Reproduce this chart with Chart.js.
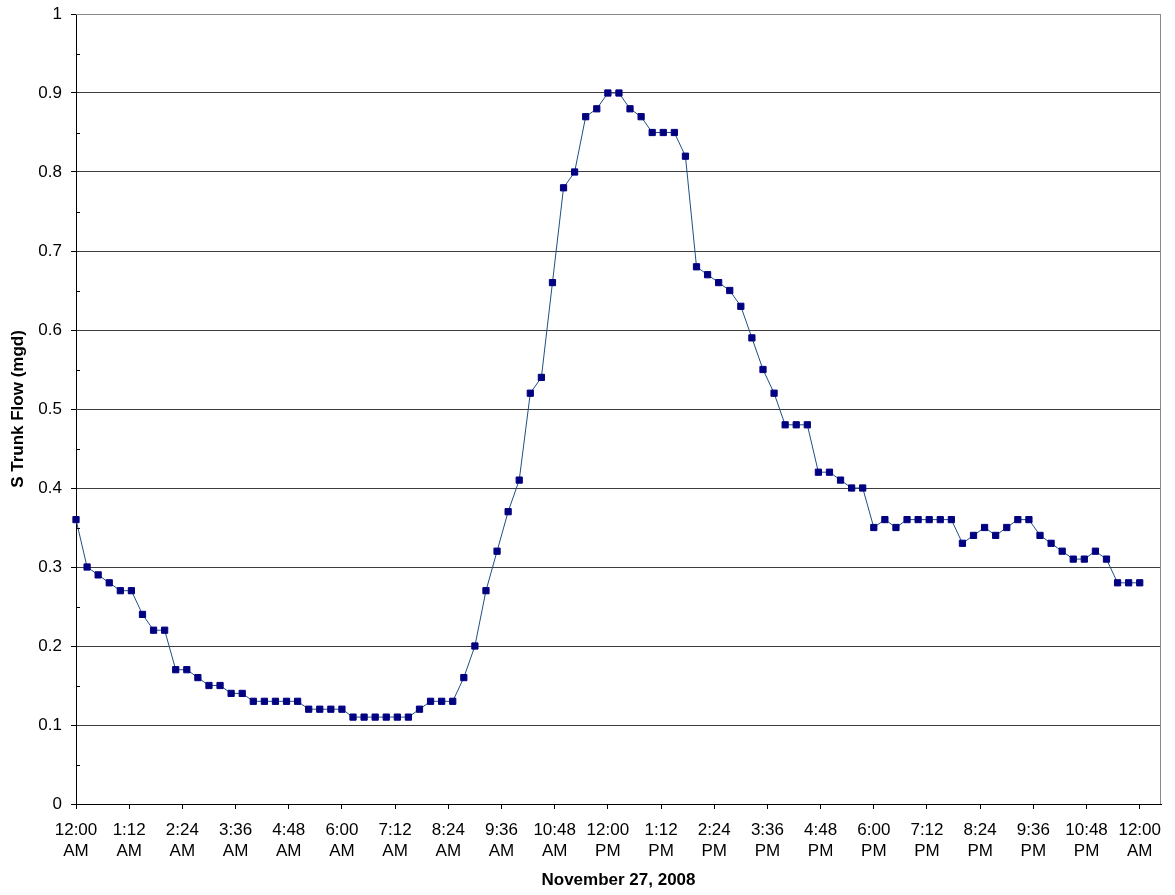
<!DOCTYPE html>
<html>
<head>
<meta charset="utf-8">
<title>S Trunk Flow – November 27, 2008</title>
<script src="https://cdn.jsdelivr.net/npm/chart.js@4/dist/chart.umd.min.js"></script>
<style>
  html, body { margin: 0; padding: 0; background: #ffffff; }
  #wrap { width: 1175px; height: 895px; position: relative; }
</style>
</head>
<body>
<div id="wrap"><canvas id="flowChart"></canvas></div>
<script>
// Flow readings (mgd), one every 15 minutes from midnight to midnight.
const stepMinutes = 15;
const flowMgd = [
  0.36, 0.30, 0.29, 0.28, 0.27, 0.27, 0.24, 0.22, 0.22, 0.17,
  0.17, 0.16, 0.15, 0.15, 0.14, 0.14, 0.13, 0.13, 0.13, 0.13,
  0.13, 0.12, 0.12, 0.12, 0.12, 0.11, 0.11, 0.11, 0.11, 0.11,
  0.11, 0.12, 0.13, 0.13, 0.13, 0.16, 0.20, 0.27, 0.32, 0.37,
  0.41, 0.52, 0.54, 0.66, 0.78, 0.80, 0.87, 0.88, 0.90, 0.90,
  0.88, 0.87, 0.85, 0.85, 0.85, 0.82, 0.68, 0.67, 0.66, 0.65,
  0.63, 0.59, 0.55, 0.52, 0.48, 0.48, 0.48, 0.42, 0.42, 0.41,
  0.40, 0.40, 0.35, 0.36, 0.35, 0.36, 0.36, 0.36, 0.36, 0.36,
  0.33, 0.34, 0.35, 0.34, 0.35, 0.36, 0.36, 0.34, 0.33, 0.32,
  0.31, 0.31, 0.32, 0.31, 0.28, 0.28, 0.28
];

// Time-axis labels, every 72 minutes.
const tickStepMinutes = 72;
const xTickLabels = [
  ['12:00', 'AM'], ['1:12', 'AM'], ['2:24', 'AM'], ['3:36', 'AM'], ['4:48', 'AM'],
  ['6:00', 'AM'], ['7:12', 'AM'], ['8:24', 'AM'], ['9:36', 'AM'], ['10:48', 'AM'],
  ['12:00', 'PM'], ['1:12', 'PM'], ['2:24', 'PM'], ['3:36', 'PM'], ['4:48', 'PM'],
  ['6:00', 'PM'], ['7:12', 'PM'], ['8:24', 'PM'], ['9:36', 'PM'], ['10:48', 'PM'],
  ['12:00', 'AM']
];
const xAxisMaxMinutes = 1468.8;   // axis runs slightly past the next midnight

const yMin = 0, yMax = 1, yStep = 0.1;
const xTitle = 'November 27, 2008';
const yTitle = 'S Trunk Flow (mgd)';

const points = flowMgd.map((v, i) => ({ x: i * stepMinutes, y: v }));

const FONT = '"Liberation Sans", Arial, Helvetica, sans-serif';

// Plot-area frame (top and right) plus small inward minor ticks on the value axis.
const framePlugin = {
  id: 'frame',
  afterDraw(chart) {
    const { ctx, chartArea: a, scales } = chart;
    ctx.save();
    ctx.strokeStyle = '#8a8a8a';
    ctx.lineWidth = 1;
    ctx.beginPath();
    ctx.moveTo(a.left, a.top + 0.5);
    ctx.lineTo(a.right - 0.5, a.top + 0.5);
    ctx.lineTo(a.right - 0.5, a.bottom);
    ctx.stroke();

    const y = scales.y;
    ctx.strokeStyle = '#000';
    ctx.beginPath();
    for (let v = yMin + yStep / 2; v < yMax; v += yStep) {
      const py = Math.round(y.getPixelForValue(v)) + 0.5;
      ctx.moveTo(a.left, py);
      ctx.lineTo(a.left + 4, py);
    }
    ctx.stroke();
    ctx.restore();
  }
};

new Chart(document.getElementById('flowChart'), {
  type: 'line',
  data: {
    datasets: [{
      data: points,
      borderColor: '#1f4f82',
      borderWidth: 1,
      pointStyle: 'rect',
      pointRadius: 4.4,
      pointBorderWidth: 1,
      pointBackgroundColor: '#000080',
      pointBorderColor: '#000080',
      tension: 0,
      clip: false
    }]
  },
  options: {
    responsive: true,
    maintainAspectRatio: false,
    animation: false,
    events: [],
    layout: { padding: { left: 0, right: 14, top: 14, bottom: 0 } },
    plugins: {
      legend: { display: false },
      tooltip: { enabled: false },
      title: { display: false }
    },
    scales: {
      x: {
        type: 'linear',
        min: 0,
        max: xAxisMaxMinutes,
        afterBuildTicks(scale) {
          scale.ticks = xTickLabels.map((_, i) => ({ value: i * tickStepMinutes }));
        },
        afterFit(scale) { scale.height = 91; },
        grid: {
          drawOnChartArea: false,
          drawTicks: true,
          tickLength: 5,
          tickColor: '#000'
        },
        border: { display: true, color: '#000', width: 1 },
        ticks: {
          autoSkip: false,
          maxRotation: 0,
          minRotation: 0,
          padding: 11,
          color: '#000',
          font: { family: FONT, size: 17, lineHeight: 1.24 },
          callback(value, index) { return xTickLabels[index]; }
        },
        title: {
          display: true,
          text: xTitle,
          color: '#000',
          font: { family: FONT, size: 17, weight: 'bold', lineHeight: 1.2 },
          padding: { top: 0, bottom: 4 }
        }
      },
      y: {
        min: yMin,
        max: yMax,
        afterFit(scale) {
          scale.width = 76;
          scale.paddingTop = 0;
          scale.paddingBottom = 0;
        },
        grid: {
          drawOnChartArea: true,
          drawTicks: true,
          tickLength: 5,
          tickColor: '#000',
          color(ctx) { return ctx.tick && ctx.tick.value >= yMax ? '#8a8a8a' : '#3c3c3c'; },
          lineWidth: 1
        },
        border: { display: true, color: '#000', width: 1 },
        ticks: {
          stepSize: yStep,
          padding: 9,
          color: '#000',
          font: { family: FONT, size: 17, lineHeight: 0.6 },
          callback(value) { return String(Number(value.toFixed(1))); }
        },
        title: {
          display: true,
          text: yTitle,
          color: '#000',
          font: { family: FONT, size: 17, weight: 'bold', lineHeight: 1.2 },
          padding: { top: 8, bottom: 0 }
        }
      }
    }
  },
  plugins: [framePlugin]
});
</script>
</body>
</html>
